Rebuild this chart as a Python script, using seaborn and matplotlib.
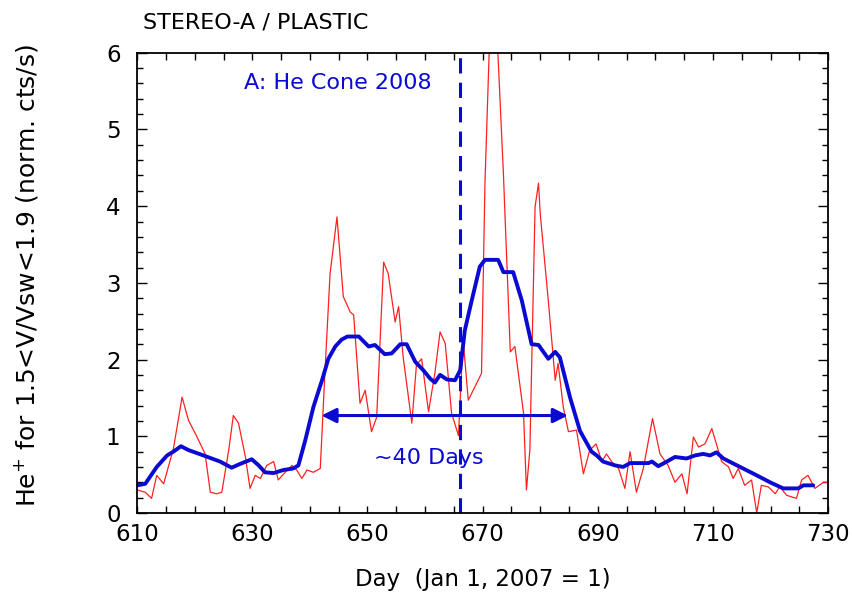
import matplotlib
matplotlib.use("Agg")
import matplotlib.pyplot as plt
import numpy as np
import pandas as pd
import seaborn as sns
from matplotlib.ticker import MultipleLocator

# Daily He+ count rates (red)
red_day = [610.0, 611.4, 612.5, 613.4, 614.6, 616.3, 617.8, 618.9, 620.4, 621.8,
           622.7, 623.8, 624.7, 625.9, 626.7, 627.6, 628.8, 629.6, 630.5, 631.4,
           632.5, 633.7, 634.5, 635.7, 636.9, 637.7, 638.6, 639.5, 640.6, 641.8,
           642.6, 643.5, 644.7, 645.8, 647.0, 647.6, 648.7, 649.6, 650.7, 651.6,
           652.8, 653.6, 654.8, 655.4, 656.2, 657.7, 658.5, 659.4, 660.6, 661.7,
           662.6, 663.5, 664.6, 665.8, 666.6, 667.5, 669.8, 670.4, 671.3, 672.4,
           673.6, 674.8, 675.6, 677.1, 677.6, 678.2, 679.1, 679.7, 680.0, 681.4,
           682.6, 683.1, 684.0, 684.9, 686.3, 687.5, 688.6, 689.7, 690.7, 691.5,
           692.4, 693.6, 694.7, 695.6, 696.7, 697.9, 699.5, 700.8, 702.2, 703.4,
           704.6, 705.5, 706.6, 707.5, 708.6, 709.8, 711.5, 712.7, 713.5, 714.4,
           715.5, 716.7, 717.6, 718.4, 719.6, 720.8, 721.6, 722.8, 724.5, 725.4,
           726.5, 727.7, 729.2, 730.0]
red_val = [0.30, 0.27, 0.19, 0.49, 0.38, 0.84, 1.51, 1.21, 0.99, 0.77,
           0.27, 0.25, 0.27, 0.82, 1.27, 1.17, 0.73, 0.32, 0.49, 0.45,
           0.62, 0.67, 0.43, 0.53, 0.62, 0.56, 0.45, 0.56, 0.53, 0.58,
           1.82, 3.12, 3.86, 2.82, 2.62, 2.58, 1.43, 1.60, 1.06, 1.25,
           3.27, 3.12, 2.49, 2.69, 2.03, 1.17, 1.93, 2.01, 1.32, 1.82,
           2.36, 2.21, 1.30, 1.01, 2.27, 1.47, 1.82, 4.30, 6.40, 6.40,
           4.43, 2.10, 2.17, 1.30, 0.30, 0.82, 3.99, 4.30, 3.90, 2.77,
           1.73, 1.95, 1.38, 1.06, 1.08, 0.51, 0.82, 0.90, 0.67, 0.77,
           0.67, 0.58, 0.32, 0.80, 0.27, 0.58, 1.23, 0.77, 0.62, 0.40,
           0.51, 0.25, 0.99, 0.86, 0.90, 1.10, 0.67, 0.60, 0.45, 0.58,
           0.36, 0.43, 0.00, 0.36, 0.34, 0.25, 0.34, 0.23, 0.19, 0.43,
           0.49, 0.32, 0.40, 0.40]

# Running average (blue)
blue_day = [610.0, 611.4, 613.4, 615.2, 616.3, 617.6, 618.9, 621.5, 624.4, 626.4,
            627.9, 629.9, 631.1, 632.2, 633.7, 635.4, 637.1, 638.0, 639.2, 640.6,
            642.1, 643.2, 644.4, 645.5, 646.5, 648.5, 650.2, 651.3, 653.0, 654.2,
            655.7, 656.8, 658.3, 659.7, 660.9, 661.7, 662.6, 663.8, 665.2, 666.1,
            666.9, 668.1, 669.5, 670.4, 672.7, 673.6, 675.3, 676.8, 678.5, 679.7,
            681.4, 682.6, 683.4, 685.2, 686.9, 688.9, 689.8, 690.9, 693.0, 694.4,
            695.6, 698.8, 699.4, 700.5, 702.0, 703.4, 705.4, 706.9, 708.3, 709.5,
            710.6, 711.8, 714.7, 717.6, 719.9, 722.2, 724.8, 725.7, 727.4]
blue_val = [0.36, 0.38, 0.60, 0.75, 0.80, 0.87, 0.82, 0.75, 0.67, 0.59,
            0.64, 0.70, 0.62, 0.53, 0.52, 0.56, 0.58, 0.62, 0.95, 1.38,
            1.73, 2.01, 2.17, 2.26, 2.30, 2.30, 2.17, 2.19, 2.07, 2.08,
            2.20, 2.20, 1.97, 1.86, 1.75, 1.70, 1.80, 1.74, 1.73, 1.86,
            2.38, 2.77, 3.21, 3.30, 3.30, 3.14, 3.14, 2.77, 2.20, 2.19,
            2.01, 2.10, 2.03, 1.50, 1.07, 0.80, 0.75, 0.67, 0.62, 0.60,
            0.65, 0.65, 0.67, 0.61, 0.67, 0.73, 0.71, 0.75, 0.77, 0.75,
            0.79, 0.71, 0.60, 0.49, 0.40, 0.32, 0.32, 0.36, 0.36]

x_ticks = [610, 630, 650, 670, 690, 710, 730]

cone_day = 666
arrow_start, arrow_end, arrow_y = 642, 684.8, 1.27

BLUE = "#0a0ad2"
RED = "#ff2020"

sns.set_style("ticks")
plt.rcParams["font.family"] = ["DejaVu Sans"]
plt.rcParams.update({"text.color": "black", "axes.labelcolor": "black",
                     "xtick.color": "black", "ytick.color": "black"})

fig = plt.figure(figsize=(8.52, 5.93), dpi=100)
ax = fig.add_axes([0.161, 0.135, 0.811, 0.776])

df_red = pd.DataFrame({"day": red_day, "val": red_val})
df_blue = pd.DataFrame({"day": blue_day, "val": blue_val})
sns.lineplot(data=df_red, x="day", y="val", color=RED, lw=0.9, ax=ax)
sns.lineplot(data=df_blue, x="day", y="val", color=BLUE, lw=2.8, ax=ax)

ax.axvline(cone_day, color=BLUE, lw=2.2, ls=(0, (5, 3)))
ax.annotate("", xy=(arrow_start, arrow_y), xytext=(arrow_end, arrow_y),
            arrowprops=dict(arrowstyle="<|-|>", color=BLUE, lw=2.2,
                            mutation_scale=22, shrinkA=0, shrinkB=0))
ax.text(660.7, 0.72, "~40 Days", color=BLUE, fontsize=16, ha="center", va="center")
ax.text(644.9, 5.6, "A: He Cone 2008", color=BLUE, fontsize=16, ha="center", va="center")

ax.set_xlim(610, 730)
ax.set_ylim(0, 6)
ax.set_xticks(x_ticks)
ax.xaxis.set_minor_locator(MultipleLocator(5))
ax.yaxis.set_major_locator(MultipleLocator(1))
ax.yaxis.set_minor_locator(MultipleLocator(0.2))
ax.tick_params(which="both", direction="in", top=True, right=True, labelsize=16.5, width=1)
ax.tick_params(axis="x", which="both", length=5, pad=7)
ax.tick_params(axis="y", which="major", length=7, pad=12)
ax.tick_params(axis="y", which="minor", length=4)
for sp in ax.spines.values():
    sp.set_linewidth(1.3)
    sp.set_color("black")

ax.set_xlabel("Day  (Jan 1, 2007 = 1)", fontsize=16.5, labelpad=16)
ax.set_ylabel("He$^{+}$ for 1.5<V/Vsw<1.9 (norm. cts/s)", fontsize=18)
ax.yaxis.set_label_coords(-0.141, 0.515)
fig.text(0.168, 0.962, "STEREO-A / PLASTIC", fontsize=16, ha="left", va="center")

fig.savefig("out.png", dpi=100, facecolor="white")
